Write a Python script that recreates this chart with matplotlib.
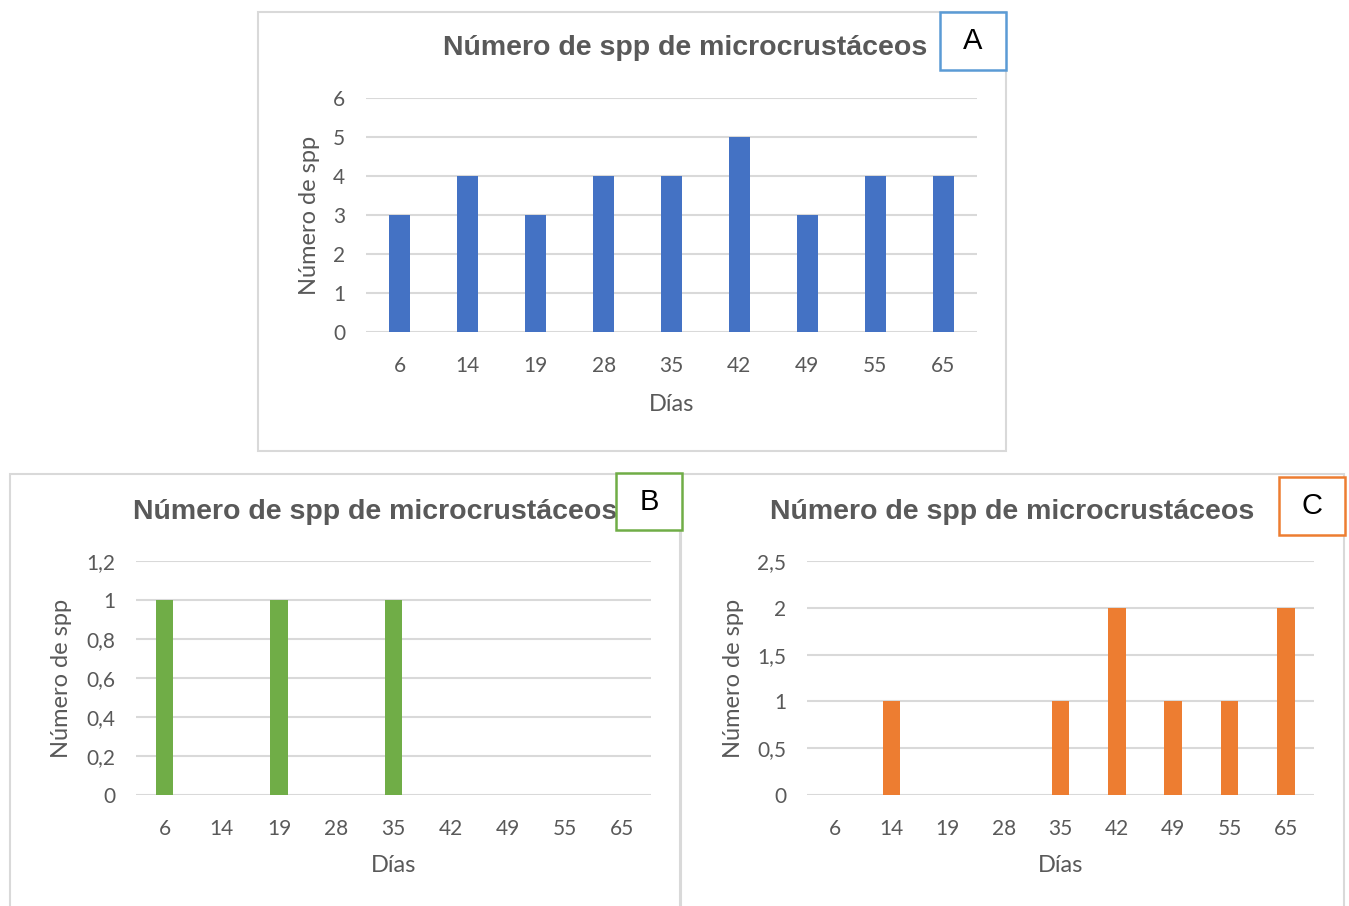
import matplotlib
matplotlib.use("Agg")
import matplotlib.pyplot as plt
from matplotlib.patches import Rectangle

# Sampling days and species counts for each site
dias = ["6", "14", "19", "28", "35", "42", "49", "55", "65"]
spp_a = [3, 4, 3, 4, 4, 5, 3, 4, 4]
spp_b = [1, 0, 1, 0, 1, 0, 0, 0, 0]
spp_c = [0, 1, 0, 0, 1, 2, 1, 1, 2]

yticks_a = [0, 1, 2, 3, 4, 5, 6]
ylabels_a = ["0", "1", "2", "3", "4", "5", "6"]
yticks_b = [0, 0.2, 0.4, 0.6, 0.8, 1.0, 1.2]
ylabels_b = ["0", "0,2", "0,4", "0,6", "0,8", "1", "1,2"]
yticks_c = [0, 0.5, 1.0, 1.5, 2.0, 2.5]
ylabels_c = ["0", "0,5", "1", "1,5", "2", "2,5"]

titulo = "Número de spp de microcrustáceos"

W, H = 1349, 906
fig = plt.figure(figsize=(W / 100, H / 100), dpi=100)
fig.patch.set_facecolor("white")

GRAY = "#595959"
GRID = "#D9D9D9"
TICK_FONT = ["Lato", "DejaVu Sans"]
TITLE_FONT = ["Liberation Sans", "DejaVu Sans"]


def fx(px):
    return px / W


def fy(py):
    return 1 - py / H


def frame(x0, y0, x1, y1, color, lw):
    fig.patches.append(Rectangle((fx(x0), fy(y1)), fx(x1) - fx(x0), fy(y0) - fy(y1),
                                 transform=fig.transFigure, fill=False,
                                 edgecolor=color, linewidth=lw, zorder=0))


def panel(box, values, color, yticks, ylabels, ylab_x, xlab_y, title_xy, tag, tag_box, tag_color):
    left, top, right, bottom = box
    ax = fig.add_axes([fx(left), fy(bottom), fx(right) - fx(left), fy(top) - fy(bottom)])
    ax.bar(range(len(dias)), values, width=0.31, color=color, zorder=3)
    ax.set_xlim(-0.5, len(dias) - 0.5)
    ax.set_ylim(yticks[0], yticks[-1])
    ax.set_xticks(range(len(dias)))
    ax.set_xticklabels(dias)
    ax.set_yticks(yticks)
    ax.set_yticklabels(ylabels)
    ax.grid(axis="y", color=GRID, linewidth=1.5, zorder=0)
    ax.set_axisbelow(True)
    for s in ax.spines.values():
        s.set_visible(False)
    ax.tick_params(length=0, labelsize=15, colors=GRAY)
    ax.tick_params(axis="y", pad=15)
    ax.tick_params(axis="x", pad=17)
    for lbl in ax.get_xticklabels() + ax.get_yticklabels():
        lbl.set_family(TICK_FONT)
    # axis titles
    fig.text(fx(ylab_x), fy((top + bottom) / 2), "Número de spp", rotation=90,
             ha="center", va="center", fontsize=17, color=GRAY, family=TICK_FONT)
    fig.text(fx((left + right) / 2), fy(xlab_y), "Días", ha="center", va="center",
             fontsize=17, color=GRAY, family=TICK_FONT)
    fig.text(fx(title_xy[0]), fy(title_xy[1]), titulo, ha="center", va="center",
             fontsize=20.5, fontweight="bold", color=GRAY, family=TITLE_FONT)
    # lettered tag box
    x0, y0, x1, y1 = tag_box
    fig.patches.append(Rectangle((fx(x0), fy(y1)), fx(x1) - fx(x0), fy(y0) - fy(y1),
                                 transform=fig.transFigure, facecolor="white",
                                 edgecolor=tag_color, linewidth=1.8, zorder=5))
    fig.text(fx((x0 + x1) / 2), fy((y0 + y1) / 2), tag, ha="center", va="center",
             fontsize=21, color="black", family=TITLE_FONT, zorder=6)
    return ax


# outer chart frames
frame(258, 12, 1006, 451, GRID, 1.5)
frame(10, 474, 680, 912, GRID, 1.5)
frame(681, 474, 1344, 912, GRID, 1.5)

panel((366, 98, 977, 332), spp_a, "#4472C4", yticks_a, ylabels_a,
      310, 404, (685, 48), "A", (940, 12, 1006, 70), "#5B9BD5")
panel((136, 561, 651, 795), spp_b, "#70AD47", yticks_b, ylabels_b,
      62, 866, (375, 512), "B", (616, 473, 682, 530), "#70AD47")
panel((807, 561, 1314, 795), spp_c, "#ED7D31", yticks_c, ylabels_c,
      733, 866, (1012, 512), "C", (1279, 477, 1345, 535), "#ED7D31")

fig.savefig("out.png", dpi=100, facecolor="white")
